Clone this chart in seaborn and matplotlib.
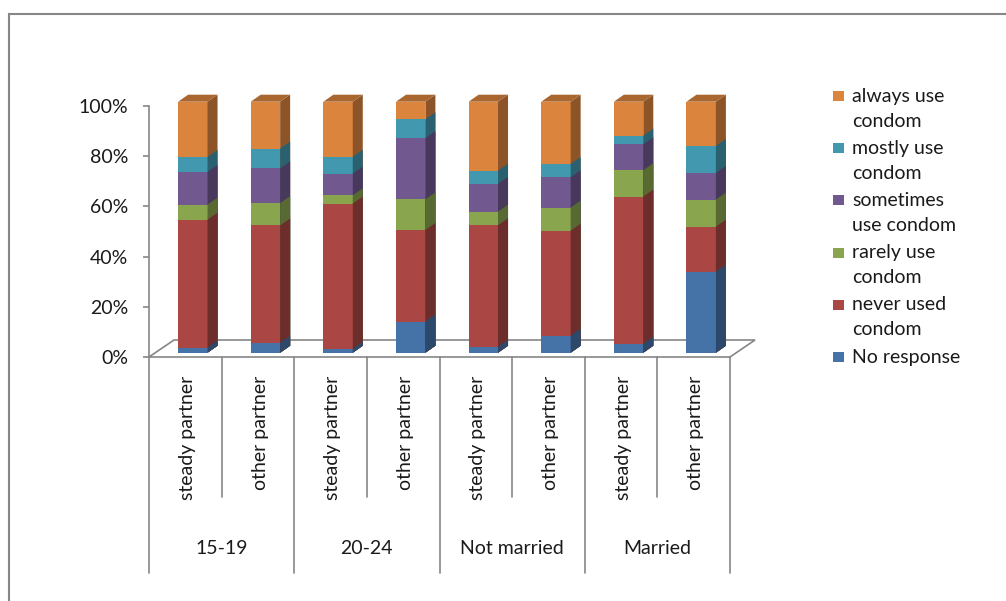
import numpy as np
import pandas as pd
import matplotlib
matplotlib.use("Agg")
import matplotlib.pyplot as plt
import matplotlib.transforms as mtransforms
import matplotlib.colors as mcolors
from matplotlib.patches import Polygon, Rectangle
import seaborn as sns

# =========================
# DATA
# =========================
groups = ["15-19", "20-24", "Not married", "Married"]
partners = ["steady partner", "other partner"]
responses = ["No response", "never used\ncondom", "rarely use\ncondom",
             "sometimes\nuse condom", "mostly use\ncondom", "always use\ncondom"]

no_response = [2.0, 4.0, 1.6, 12.4, 2.3, 6.8, 3.5, 32.3]
never_used = [51.0, 46.7, 57.8, 36.5, 48.5, 41.8, 58.7, 17.9]
rarely_use = [6.0, 8.9, 3.3, 12.2, 5.4, 9.2, 10.5, 10.8]
sometimes_use = [13.0, 13.8, 8.6, 24.4, 11.1, 12.1, 10.3, 10.6]
mostly_use = [6.0, 7.9, 6.8, 7.5, 5.2, 5.3, 3.5, 10.8]
always_use = [22.0, 18.7, 21.9, 7.0, 27.5, 24.8, 13.5, 17.6]

colors = ["#4572A7", "#AA4643", "#89A54E", "#71588F", "#4198AF", "#DB843D"]
gray = "#868686"
text_color = "#1a1a1a"
FS = 14

df = pd.DataFrame({
    responses[0]: no_response,
    responses[1]: never_used,
    responses[2]: rarely_use,
    responses[3]: sometimes_use,
    responses[4]: mostly_use,
    responses[5]: always_use,
})
cum = df.cumsum(axis=1)
cum = cum.div(cum.iloc[:, -1], axis=0) * 100
n_bars = len(df)


def shade(c, f):
    r, g, b = mcolors.to_rgb(c)
    return (r * f, g * f, b * f)


# =========================
# LAYOUT (pixels)
# =========================
W, H = 1006, 601
AX_L, AX_R, AX_B, AX_T = 149, 730, 357, 106
sx = n_bars / (AX_R - AX_L)      # data units per px (x)
sy = 100 / (AX_B - AX_T)         # data units per px (y)

sns.set_style("white")
plt.rcParams["font.family"] = ["Lato", "DejaVu Sans"]
plt.rcParams["text.color"] = text_color

fig = plt.figure(figsize=(W / 100, H / 100), dpi=100)
ax = fig.add_axes([AX_L / W, 1 - AX_B / H, (AX_R - AX_L) / W, (AX_B - AX_T) / H])
ax.set_facecolor("none")

# =========================
# FLOOR
# =========================
fdx, fdy = 25 * sx, 17 * sy
floor = Polygon([(-0.5, 0), (n_bars - 0.5, 0), (n_bars - 0.5 + fdx, fdy), (-0.5 + fdx, fdy)],
                closed=True, fill=False, edgecolor=gray, lw=1.2, clip_on=False, zorder=1)
ax.add_patch(floor)

# =========================
# STACKED 3D BARS
# =========================
off = mtransforms.ScaledTranslation(7.5 / 100, 4.3 / 100, fig.dpi_scale_trans)
tr = ax.transData + off
bdx, bdy = 10 * sx, 7 * sy

for k in reversed(range(len(responses))):
    n0 = len(ax.patches)
    sns.barplot(x=np.arange(n_bars), y=cum.iloc[:, k].values, color=colors[k],
                saturation=1, width=0.405, ax=ax, linewidth=0)
    for p in ax.patches[n0:]:
        p.set_transform(tr)
        p.set_clip_on(False)
        x0, w, h = p.get_x(), p.get_width(), p.get_height()
        side = Polygon([(x0 + w, 0), (x0 + w, h), (x0 + w + bdx, h + bdy), (x0 + w + bdx, bdy)],
                       closed=True, facecolor=shade(colors[k], 0.64), lw=0,
                       transform=tr, clip_on=False)
        ax.add_patch(side)
        if k == len(responses) - 1:
            top = Polygon([(x0, h), (x0 + w, h), (x0 + w + bdx, h + bdy), (x0 + bdx, h + bdy)],
                          closed=True, facecolor=shade(colors[k], 0.77), lw=0,
                          transform=tr, clip_on=False)
            ax.add_patch(top)

# =========================
# AXES
# =========================
ax.set_xlim(-0.5, n_bars - 0.5)
ax.set_ylim(0, 100)
ax.set_yticks(range(0, 101, 20))
ax.set_yticklabels([f"{v}%" for v in range(0, 101, 20)])
ax.set_xticks([])
ax.set_xlabel("")
ax.set_ylabel("")
for s in ["top", "right", "bottom"]:
    ax.spines[s].set_visible(False)
ax.spines["left"].set_color(gray)
ax.spines["left"].set_linewidth(1.2)
ax.tick_params(axis="y", length=4.5, width=1.2, color=gray, pad=10.5,
               labelsize=FS, labelcolor=text_color, left=True)

# category boxes below the floor
tb = mtransforms.blended_transform_factory(ax.transData, fig.transFigure)
for i in range(n_bars + 1):
    bottom = 573 if i % 2 == 0 else 497
    ax.plot([i - 0.5, i - 0.5], [1 - AX_B / H, 1 - bottom / H], color=gray, lw=1.2,
            transform=tb, clip_on=False)
for i in range(n_bars):
    ax.text(i + 0.03, 1 - 376 / H, partners[i % 2], rotation=90, ha="center", va="top",
            fontsize=FS, transform=tb)
for g, name in enumerate(groups):
    ax.text(2 * g + 0.5, 1 - 548 / H, name, ha="center", va="center",
            fontsize=FS, transform=tb)

# =========================
# LEGEND
# =========================
for j, k in enumerate(reversed(range(len(responses)))):
    yc = 96 + 52.2 * j
    fig.patches.append(Rectangle((833 / W, 1 - (yc + 5) / H), 11 / W, 10 / H,
                                 facecolor=colors[k], lw=0, transform=fig.transFigure))
    for li, line in enumerate(responses[k].split("\n")):
        fig.text(852 / W, 1 - (yc + 5.7 + 25 * li) / H, line, va="baseline", ha="left",
                 fontsize=FS)

# outer chart frame
fig.patches.append(Rectangle((9 / W, -0.1), 2, 1 - 14 / H + 0.1, fill=False,
                             edgecolor=gray, lw=1.5, transform=fig.transFigure))

fig.savefig("out.png", dpi=100)
